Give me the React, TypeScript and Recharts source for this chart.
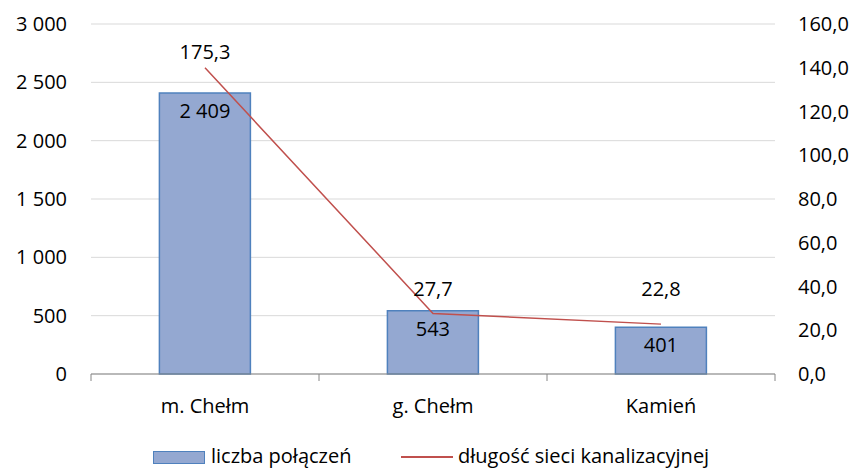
import React from 'react'
import {
  ComposedChart,
  Bar,
  Line,
  XAxis,
  YAxis,
  CartesianGrid,
  LabelList,
  Legend,
} from 'recharts'

const categories = ['m. Chełm', 'g. Chełm', 'Kamień']
const connections = [2409, 543, 401]
// line as plotted on the right axis; the first label text differs from where the point sits
const networkLength = [140, 27.7, 22.8]
const networkLabels = ['175,3', '27,7', '22,8']
const leftTicks = [0, 500, 1000, 1500, 2000, 2500, 3000]
const rightTicks = [0, 20, 40, 60, 80, 100, 120, 140, 160]
const boundaryTicks = [0, 1, 2, 3]

const FONT = '"Open Sans", sans-serif'
const FS = 20
const BAR_FILL = '#94A8D1'
const BAR_STROKE = '#4F81BD'
const LINE_COLOR = '#C0504D'
// how far above each point its label sits
const lineLabelLift = [16, 25, 36]

const data = categories.map((c, i) => ({
  name: c,
  idx: i + 0.5,
  connections: connections[i],
  length: networkLength[i],
  lengthLabel: networkLabels[i],
}))

const fmtThousands = (v: number) =>
  String(v).replace(/\B(?=(\d{3})+(?!\d))/g, ' ')

const LineLabel = (props: any) => {
  const { x, y, index } = props
  return (
    <text
      x={x}
      y={y - lineLabelLift[index]}
      textAnchor="middle"
      dominantBaseline="central"
      fontSize={FS}
      fontFamily={FONT}
      fill="#000"
    >
      {networkLabels[index]}
    </text>
  )
}

const CustomLegend = () => (
  <div style={{ position: 'relative', height: 20, fontFamily: FONT, fontSize: FS, color: '#000' }}>
    <div
      style={{
        position: 'absolute', left: 153, top: 19, width: 50, height: 11,
        background: BAR_FILL, border: `1.5px solid ${BAR_STROKE}`,
      }}
    />
    <span style={{ position: 'absolute', left: 211, top: 10, whiteSpace: 'nowrap', lineHeight: '28px' }}>liczba połączeń</span>
    <div style={{ position: 'absolute', left: 401, top: 24, width: 52, height: 2, background: LINE_COLOR }} />
    <span style={{ position: 'absolute', left: 458, top: 10, whiteSpace: 'nowrap', lineHeight: '28px' }}>długość sieci kanalizacyjnej</span>
  </div>
)

export default function App() {
  return (
    <div style={{ position: 'absolute', left: 0, top: 0, width: 857, height: 468, background: '#fff' }}>
      <ComposedChart
        width={857}
        height={468}
        data={data}
        margin={{ top: 24, right: 0, left: 0, bottom: 0 }}
        barCategoryGap="30%"
      >
        <CartesianGrid vertical={false} stroke="#D9D9D9" yAxisId="left" />
        <XAxis
          xAxisId="bound"
          type="number"
          dataKey="idx"
          domain={[0, 3]}
          ticks={boundaryTicks}
          tickFormatter={() => ''}
          stroke="#868686"
          tickSize={7}
          height={8}
          allowDataOverflow
        />
        <XAxis
          xAxisId="cat"
          dataKey="name"
          axisLine={false}
          tickLine={false}
          tickSize={0}
          tickMargin={17}
          height={50}
          tick={{ fontSize: FS, fontFamily: FONT, fill: '#000' }}
        />
        <YAxis
          yAxisId="left"
          domain={[0, 3000]}
          ticks={leftTicks}
          tickFormatter={fmtThousands}
          axisLine={false}
          tickLine={false}
          tickSize={6}
          tickMargin={18}
          width={91}
          tick={{ fontSize: FS, fontFamily: FONT, fill: '#000' }}
        />
        <YAxis
          yAxisId="right"
          orientation="right"
          domain={[0, 160]}
          ticks={rightTicks}
          tickFormatter={(v: number) => v.toFixed(1).replace('.', ',')}
          axisLine={false}
          tickLine={false}
          tickSize={6}
          tickMargin={17}
          width={82}
          tick={{ fontSize: FS, fontFamily: FONT, fill: '#000' }}
        />
        <Legend verticalAlign="bottom" height={36} content={<CustomLegend />} />
        <Bar
          xAxisId="cat"
          yAxisId="left"
          dataKey="connections"
          fill={BAR_FILL}
          stroke={BAR_STROKE}
          strokeWidth={1.5}
          isAnimationActive={false}
        >
          <LabelList
            dataKey="connections"
            position="insideTop"
            offset={11}
            formatter={(v: any) => fmtThousands(v)}
            style={{ fontSize: FS, fontFamily: FONT, fill: '#000' }}
          />
        </Bar>
        <Line
          xAxisId="cat"
          yAxisId="right"
          dataKey="length"
          stroke={LINE_COLOR}
          strokeWidth={1.5}
          dot={false}
          activeDot={false}
          isAnimationActive={false}
        >
          <LabelList dataKey="lengthLabel" content={<LineLabel />} />
        </Line>
      </ComposedChart>
    </div>
  )
}
